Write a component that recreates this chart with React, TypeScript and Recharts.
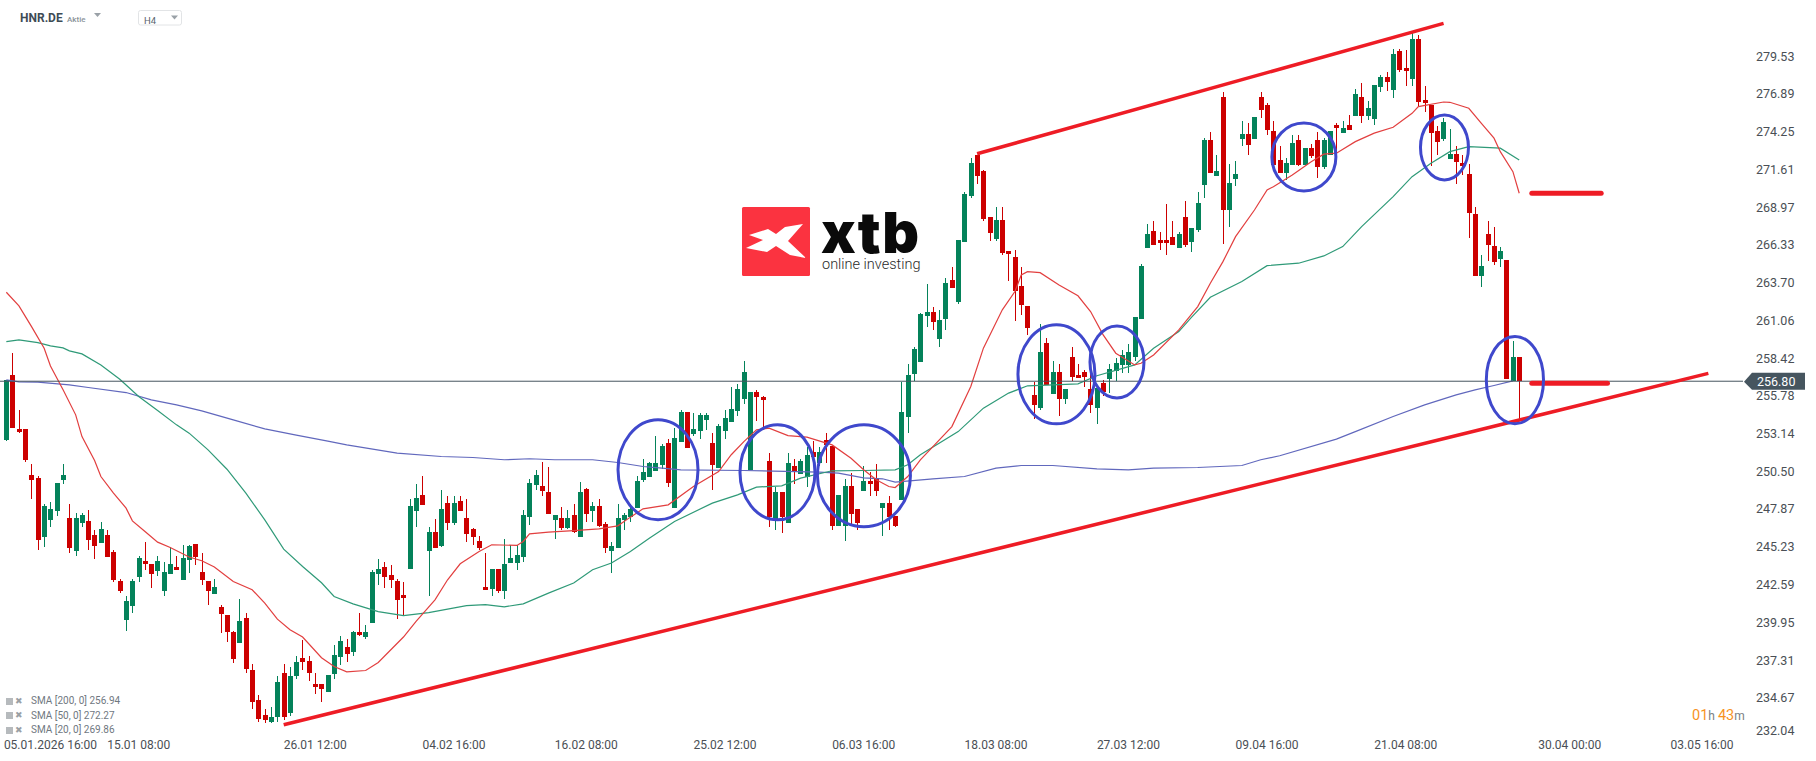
import React from "react";
import { ComposedChart, Bar, Line, XAxis, YAxis, ReferenceLine, ReferenceDot } from "recharts";

const FONT = "Roboto, sans-serif";
const GREEN = "#04825a";
const RED = "#cc0000";

// [open, high, low, close], one per 4h candle
const candles: number[][] = [
  [252.70,256.89,252.63,256.89],[257.24,258.78,253.54,253.54],[253.47,254.80,253.19,253.26],[253.47,253.47,251.16,251.30],
  [250.25,251.02,248.58,249.90],[250.04,250.18,245.01,245.71],[245.92,248.23,245.22,248.09],[247.11,248.37,246.62,247.88],
  [247.74,249.69,247.39,249.69],[249.90,251.02,249.62,250.25],[247.25,248.23,244.80,245.15],[244.94,247.60,244.59,247.25],
  [246.90,247.60,246.62,247.46],[247.04,247.81,245.01,245.71],[246.06,246.41,244.38,245.29],[245.50,246.97,245.50,246.48],
  [246.06,246.41,244.52,244.52],[244.87,245.01,242.78,242.92],[242.85,242.99,242.01,242.15],[240.12,241.80,239.35,241.45],
  [241.10,242.99,240.61,242.85],[243.12,244.59,242.78,244.45],[244.24,245.57,243.61,244.03],[244.03,244.03,242.36,243.34],
  [243.54,244.59,243.20,244.24],[242.15,244.17,241.80,243.47],[243.34,245.22,243.34,244.03],[243.82,244.59,243.61,243.61],
  [242.92,245.36,242.92,244.45],[244.31,245.36,243.41,245.29],[245.43,245.43,243.96,244.52],[243.47,244.80,242.57,242.92],
  [242.85,242.85,241.17,242.15],[241.94,242.99,241.94,242.43],[241.03,241.17,239.21,240.54],[240.47,240.47,238.58,239.28],
  [239.28,239.35,237.10,237.40],[238.51,241.59,238.51,240.05],[240.26,240.61,236.40,236.70],[236.60,237.00,233.90,234.40],
  [234.50,234.90,233.00,233.20],[233.50,233.90,232.90,233.10],[233.00,234.00,232.90,233.30],[233.30,236.20,233.00,235.80],
  [236.40,237.00,233.10,233.30],[233.60,236.80,233.40,236.20],[236.20,237.60,236.00,237.20],[237.44,238.72,236.58,237.14],
  [237.26,237.61,235.81,236.37],[235.65,236.42,234.95,235.44],[235.65,235.65,234.41,235.30],[235.09,236.28,235.09,236.28],
  [236.35,238.37,236.00,237.68],[237.54,239.00,236.98,238.65],[238.23,238.79,237.19,237.75],[237.89,239.35,237.61,239.28],
  [239.28,240.61,239.00,239.07],[238.93,239.77,238.79,239.28],[239.91,243.62,239.91,243.48],[243.34,244.38,242.57,243.69],
  [243.83,244.17,242.36,243.13],[243.27,243.96,242.36,242.92],[242.85,242.99,240.19,241.52],[241.87,242.78,240.40,241.66],
  [243.69,248.58,243.69,248.09],[247.74,249.63,246.62,248.65],[248.86,250.18,248.16,248.16],[244.94,246.62,241.80,246.27],
  [246.27,247.18,245.15,245.15],[245.29,249.21,245.22,247.88],[248.30,248.79,246.41,246.90],[246.90,248.79,246.76,248.30],
  [248.44,248.79,247.74,247.74],[247.25,248.58,245.57,246.13],[246.48,246.55,245.36,245.92],[245.64,245.99,245.01,245.15],
  [242.43,244.80,242.22,242.22],[242.29,243.69,241.80,243.69],[243.69,243.69,242.01,242.15],[242.15,245.78,241.59,244.03],
  [244.10,245.36,244.10,244.45],[244.10,245.36,243.62,244.66],[244.52,247.81,244.17,247.46],[247.32,249.97,246.76,249.70],
  [249.55,250.60,249.21,250.25],[249.49,251.16,248.79,249.14],[249.07,250.81,247.53,247.53],[247.11,247.46,245.78,247.46],
  [247.25,248.02,246.41,246.55],[246.55,247.81,246.48,247.25],[247.46,248.23,246.20,246.27],[245.92,249.77,245.92,249.07],
  [249.28,249.35,246.97,247.53],[247.74,248.37,246.95,248.09],[248.09,248.58,246.62,246.69],[246.83,246.97,244.80,245.15],
  [244.94,245.57,243.41,245.29],[245.15,248.23,245.15,247.25],[247.11,247.60,246.41,247.46],[247.32,248.23,246.97,247.88],
  [247.95,250.18,247.95,249.83],[249.90,251.37,249.77,250.46],[250.11,251.16,250.11,251.09],[250.54,252.98,250.54,251.10],
  [250.96,252.42,250.68,252.28],[252.49,252.77,249.42,249.70],[247.95,253.54,247.95,252.84],[252.58,254.80,252.58,254.66],
  [254.66,254.66,252.16,252.16],[253.12,254.59,252.98,253.47],[253.33,254.59,252.77,254.45],[254.10,254.59,253.40,254.45],
  [252.49,253.21,249.21,250.96],[250.75,253.82,250.75,253.68],[253.33,254.80,252.77,254.24],[253.96,256.41,253.96,254.87],
  [254.73,256.62,254.38,256.27],[255.57,258.22,255.22,257.45],[250.56,256.06,250.56,256.06],[256.06,256.20,254.03,255.71],
  [255.71,255.78,253.40,255.50],[251.23,251.77,246.60,247.32],[247.18,249.42,246.41,249.07],[249.07,249.07,246.22,247.32],
  [246.90,251.79,246.90,251.09],[250.88,251.37,249.63,250.53],[250.32,251.37,250.32,251.23],[250.11,252.21,249.42,251.65],
  [251.86,252.63,251.30,251.52],[251.09,252.20,250.90,251.86],[252.70,253.19,251.09,252.35],[252.28,252.28,246.41,246.69],
  [246.69,248.86,246.69,248.86],[246.69,249.97,245.60,249.49],[249.49,250.39,246.69,247.53],[247.88,247.88,246.41,246.90],
  [249.14,250.88,249.14,249.83],[249.83,250.46,248.79,249.63],[250.04,251.02,248.79,249.14],[247.95,248.30,245.99,248.30],
  [248.30,248.79,246.41,247.32],[247.39,247.39,246.60,246.69],[248.51,256.78,248.51,254.66],[254.31,258.01,253.21,257.25],
  [257.31,259.20,256.83,259.06],[258.15,261.58,258.15,261.51],[261.37,263.60,260.60,261.65],[261.65,262.00,260.39,260.95],
  [259.76,261.79,259.20,261.09],[261.16,264.02,260.39,263.67],[263.88,264.79,263.32,263.32],[262.35,266.68,262.21,266.68],
  [266.54,270.03,266.54,269.89],[269.75,272.41,269.61,272.06],[272.62,272.62,270.59,271.15],[271.50,271.57,268.01,268.15],
  [268.29,268.29,266.61,267.17],[266.75,268.98,266.61,268.08],[268.08,268.98,265.63,265.77],[265.91,265.91,263.81,265.70],
  [265.49,265.98,261.02,263.11],[263.46,264.79,261.44,262.14],[262.07,262.07,260.04,260.53],[255.85,256.78,254.17,255.15],
  [254.94,260.81,254.80,258.85],[259.48,259.83,256.55,256.55],[255.92,258.22,255.92,257.45],[257.45,258.01,254.38,255.57],
  [255.57,256.27,255.22,256.27],[258.50,259.20,256.83,257.11],[257.25,258.01,257.04,257.04],[257.45,257.59,256.41,257.11],
  [256.27,257.59,254.59,255.15],[254.94,256.34,253.82,256.34],[256.69,256.90,255.78,256.06],[256.97,258.01,256.00,257.66],
  [257.52,258.43,256.83,258.08],[257.94,258.99,257.38,258.64],[257.94,259.41,257.38,258.85],[258.50,261.30,258.22,261.30],
  [261.16,265.00,261.16,264.86],[266.12,267.80,266.12,267.10],[267.31,268.01,266.33,266.33],[266.68,267.24,265.98,266.47],
  [266.68,269.19,265.63,266.47],[266.89,268.01,266.33,266.33],[266.12,267.24,266.12,267.10],[268.29,269.40,266.19,266.33],
  [266.54,267.52,265.84,267.52],[267.38,270.03,267.24,269.26],[270.52,273.81,269.61,273.67],[273.67,274.23,271.36,271.36],
  [271.15,272.62,271.15,271.50],[276.67,277.02,266.40,268.78],[268.78,271.99,267.59,270.66],[270.94,272.20,270.45,271.29],
  [273.74,274.99,273.25,274.09],[274.09,274.85,272.62,273.32],[273.74,275.27,273.74,275.27],[276.67,277.02,275.20,275.76],
  [276.11,276.25,274.02,274.37],[274.30,274.99,271.92,271.92],[272.27,273.25,271.36,271.36],[271.36,272.41,270.87,272.06],
  [271.92,274.02,271.92,273.46],[273.67,274.02,271.85,271.92],[271.92,273.11,271.92,273.11],[273.11,273.39,272.41,272.55],
  [273.67,274.23,271.01,271.78],[271.78,273.81,271.64,273.67],[272.62,274.30,272.62,274.30],[274.72,274.85,272.76,274.51],
  [274.16,274.99,274.16,274.51],[274.72,275.41,274.37,274.37],[275.34,277.23,275.34,276.88],[276.67,277.65,274.85,275.34],
  [275.34,276.39,275.06,275.90],[275.13,277.51,274.72,277.51],[277.37,278.21,277.02,278.07],[278.07,278.42,277.09,277.72],
  [277.16,280.03,276.60,279.68],[279.89,280.03,278.42,278.56],[278.70,279.96,277.44,278.49],[277.93,281.14,277.44,280.72],
  [280.72,281.00,276.04,276.32],[276.46,277.44,275.62,276.25],[276.11,276.11,271.85,274.16],[274.30,274.65,272.62,273.53],
  [273.74,275.20,273.60,274.92],[272.34,274.44,272.34,272.69],[272.69,273.25,270.59,272.13],[272.06,272.62,271.22,271.85],
  [271.29,271.99,266.82,268.57],[268.50,268.98,264.16,264.16],[264.16,265.63,263.39,264.86],[267.10,268.01,265.21,266.33],
  [266.26,267.59,264.93,265.14],[265.35,266.19,264.79,265.91],[265.28,265.28,256.97,256.97],[256.83,259.62,256.83,258.50],
  [258.50,258.50,254.10,256.80],
];

// [candle slot, value]
const sma20: number[][] = [[0,263.02],[2,262.07],[4,260.62],[6,259.11],[7,257.87],[9,256.20],[11,254.45],[12,252.93],[14,251.26],[15,250.14],[17,248.98],[19,247.93],[20,247.04],[22,246.29],[24,245.55],[26,245.18],[29,244.51],[31,244.25],[33,243.81],[36,242.80],[39,242.22],[41,241.29],[43,240.17],[45,239.43],[47,238.92],[50,237.47],[52,236.86],[54,236.49],[57,236.58],[59,237.14],[63,238.92],[65,240.01],[68,241.52],[70,242.92],[72,244.04],[75,244.90],[77,245.37],[81,245.32],[82,245.60],[83,246.13],[86,246.25],[90,246.36],[94,246.48],[97,246.69],[99,247.30],[101,247.88],[105,248.16],[109,249.44],[113,250.49],[115,251.66],[117,252.58],[119,253.40],[121,253.52],[124,253.00],[127,252.89],[131,252.35],[134,251.42],[136,250.61],[138,249.91],[140,249.44],[141,249.37],[143,250.14],[145,251.31],[150,253.63],[153,256.43],[155,259.11],[158,261.79],[160,263.07],[161,264.23],[162,264.46],[164,264.39],[167,263.53],[170,262.77],[172,261.67],[174,260.04],[176,258.76],[179,257.94],[180,258.06],[182,258.64],[186,260.39],[189,262.02],[191,263.65],[193,265.16],[195,266.91],[198,268.77],[200,270.17],[201,270.40],[204,271.22],[207,272.15],[209,272.67],[211,272.74],[214,273.55],[217,274.14],[220,274.55],[223,275.53],[224,276.00],[228,276.32],[229,276.30],[232,275.88],[234,274.83],[236,273.79],[237,272.85],[239,271.45],[240,269.94]];
const sma50: number[][] = [[0,259.57],[2,259.69],[5,259.50],[7,259.27],[9,259.13],[10,258.92],[12,258.71],[15,257.94],[18,256.94],[21,255.73],[24,254.75],[27,253.75],[29,253.17],[32,252.00],[35,250.65],[38,248.98],[41,247.11],[44,245.06],[47,243.85],[50,242.71],[52,241.75],[55,241.24],[59,240.70],[63,240.42],[67,240.63],[73,241.12],[76,241.19],[79,241.03],[82,241.24],[86,241.99],[90,242.69],[93,243.62],[96,244.09],[99,244.90],[102,245.83],[106,247.00],[112,248.28],[116,248.86],[119,249.40],[123,249.49],[126,250.03],[131,250.54],[136,250.56],[141,250.61],[143,250.96],[145,251.66],[151,253.28],[155,254.92],[159,255.97],[162,256.48],[170,256.62],[173,257.18],[179,257.94],[182,259.11],[186,260.27],[188,261.26],[191,262.67],[196,263.77],[200,264.88],[205,265.05],[209,265.56],[212,266.21],[215,267.61],[220,269.70],[223,271.10],[226,272.04],[229,272.85],[232,273.20],[237,273.09],[240,272.27]];
const sma200: number[][] = [[0,256.90],[2,256.76],[5,256.74],[10,256.55],[13,256.36],[19,256.01],[23,255.50],[27,255.15],[31,254.73],[36,254.10],[41,253.47],[46,253.03],[51,252.61],[54,252.35],[62,251.77],[69,251.54],[74,251.47],[79,251.31],[83,251.38],[87,251.31],[93,251.31],[97,251.12],[101,250.84],[104,250.73],[107,250.61],[117,250.56],[129,250.45],[132,250.38],[136,250.05],[139,249.98],[141,249.75],[147,249.98],[152,250.14],[157,250.73],[161,250.91],[166,250.91],[173,250.68],[178,250.61],[182,250.73],[189,250.77],[196,250.91],[199,251.31],[202,251.59],[211,252.75],[214,253.28],[220,254.33],[225,255.15],[230,255.85],[233,256.20],[236,256.50],[239,256.83]];

const priceTicks = [279.53,276.89,274.25,271.61,268.97,266.33,263.70,261.06,258.42,255.78,253.14,250.50,247.87,245.23,242.59,239.95,237.31,234.67,232.04];
const dateSlots = [7,21,49,71,92,114,136,157,178,200,222,248,269];
const dateLabels = ["05.01.2026 16:00","15.01 08:00","26.01 12:00","04.02 16:00","16.02 08:00","25.02 12:00","06.03 16:00","18.03 08:00","27.03 12:00","09.04 16:00","21.04 08:00","30.04 00:00","03.05 16:00"];
const legendRows = ["SMA [200, 0] 256.94","SMA [50, 0] 272.27","SMA [20, 0] 269.86"];
const lastPrice = 256.80;
const SLOT_COUNT = 276;

// hand-drawn annotations, in chart values
const trendLines = [
  { a: [44, 232.79], b: [270, 257.35], w: 3.5, cap: "butt" },
  { a: [154, 272.70], b: [228, 281.82], w: 3.5, cap: "butt" },
  { a: [242, 269.94], b: [253, 269.94], w: 5, cap: "round" },
  { a: [242, 256.66], b: [254, 256.66], w: 5, cap: "round" },
];
const circles = [
  { slot: 103, price: 250.61, rx: 40, ry: 50, dx: 2.4 },
  { slot: 122, price: 250.43, rx: 37.5, ry: 47.5, dx: 2.1 },
  { slot: 136, price: 250.19, rx: 46.5, ry: 51, dx: 0.3 },
  { slot: 167, price: 257.28, rx: 38.5, ry: 49.5, dx: -2.6 },
  { slot: 176, price: 258.15, rx: 27, ry: 36, dx: 1.2 },
  { slot: 206, price: 272.48, rx: 32, ry: 34, dx: -1 },
  { slot: 228, price: 273.14, rx: 24, ry: 32.5, dx: 0.9 },
  { slot: 239, price: 256.88, rx: 28.6, ry: 43.7, dx: 2 },
];

const rows: any[] = Array.from({ length: SLOT_COUNT }, (_, slot) => {
  const c = candles[slot];
  return c ? { slot, open: c[0], high: c[1], low: c[2], close: c[3], range: [c[2], c[1]] } : { slot };
});
sma20.forEach(([s, v]) => { rows[s].sma20 = v; });
sma50.forEach(([s, v]) => { rows[s].sma50 = v; });
sma200.forEach(([s, v]) => { rows[s].sma200 = v; });

function Candle(props: any) {
  const { x, y, width, height, payload } = props;
  if (!payload || payload.open === undefined) return null;
  const { open, high, low, close } = payload;
  const top = Math.min(y, y + height);
  const h = Math.abs(height);
  const ppu = h / Math.max(high - low, 0.001);
  const bodyTop = top + (high - Math.max(open, close)) * ppu;
  const bodyH = Math.max(Math.abs(open - close) * ppu, 1);
  const left = Math.round(x + width / 2 - 2.5);
  const color = close >= open ? GREEN : RED;
  return (
    <g shapeRendering="crispEdges">
      <rect x={left + 2} y={top} width={1} height={h} fill={color} />
      <rect x={left} y={bodyTop} width={5} height={bodyH} fill={color} />
    </g>
  );
}

function PriceTick(props: any) {
  const { x, y, payload } = props;
  const shift = payload.value === 232.04 ? -5 : 0;
  return (
    <text x={x + 5} y={y + 4.5 + shift} fontFamily={FONT} fontSize={12.5} fill="#4a4f55">
      {payload.value.toFixed(2)}
    </text>
  );
}

function DateTick(props: any) {
  const { x, payload } = props;
  const label = dateLabels[dateSlots.indexOf(payload.value)];
  return (
    <text x={x} y={749} textAnchor="middle" fontFamily={FONT} fontSize={12} fill="#4a4f55">
      {label}
    </text>
  );
}

function PriceTag(props: any) {
  const vb = props.viewBox;
  const x0 = vb.x + vb.width;
  const y0 = vb.y;
  return (
    <g>
      <polygon
        points={`${x0 + 1},${y0 + 0.5} ${x0 + 9},${y0 - 8.5} ${x0 + 62},${y0 - 8.5} ${x0 + 62},${y0 + 8.5} ${x0 + 9},${y0 + 8.5}`}
        fill="#46555f"
      />
      <text x={x0 + 14} y={y0 + 5} fontFamily={FONT} fontSize={12.5} fill="#ffffff">
        {lastPrice.toFixed(2)}
      </text>
    </g>
  );
}

function Header() {
  return (
    <svg width={200} height={30} style={{ position: "absolute", left: 0, top: 0 }}>
      <text x={20} y={22} fontFamily={FONT} fontSize={12} fontWeight={700} fill="#3e4b55">HNR.DE</text>
      <text x={67} y={22} fontFamily={FONT} fontSize={8} fontWeight={500} fill="#8a939a">Aktie</text>
      <polygon points="94,13 101,13 97.5,17" fill="#9aa1a7" />
      <rect x={138.5} y={10.5} width={43} height={14.5} rx={2} fill="#fff" stroke="#e2e4e6" />
      <text x={144} y={23.5} fontFamily={FONT} fontSize={9.5} fill="#59646d">H4</text>
      <polygon points="171,15.5 178,15.5 174.5,19.5" fill="#9aa1a7" />
    </svg>
  );
}

function Logo() {
  return (
    <>
      <svg width={80} height={80} viewBox="0 0 80 80" style={{ position: "absolute", left: 735, top: 203 }}>
        <rect x={7} y={4} width={68} height={69} rx={1.5} fill="#fb3340" />
        <polygon
          points="68,21 50,24 41,31 33,26 14,32 28,37 11,45 32,49 41,43 55,52 71,55 53,38"
          fill="#ffffff"
        />
      </svg>
      <div style={{ position: "absolute", left: 821, top: 214, height: 38, lineHeight: "38px", fontFamily: "Inter, sans-serif", fontWeight: 900, fontSize: 57, letterSpacing: 1.5, color: "#0a0a0a" }}>xtb</div>
      <div style={{ position: "absolute", left: 822, top: 258, height: 14, lineHeight: "14px", fontFamily: FONT, fontWeight: 300, fontSize: 14.5, color: "#2a2a2a", whiteSpace: "nowrap" }}>online investing</div>
    </>
  );
}

function Legend() {
  return (
    <div style={{ position: "absolute", left: 0, top: 694, fontFamily: FONT, fontSize: 10, color: "#70787f", lineHeight: "14.5px" }}>
      {legendRows.map((t) => (
        <div key={t} style={{ display: "flex", alignItems: "center", height: 14.5 }}>
          <span style={{ width: 7, height: 7, background: "#b6babd", marginLeft: 6, marginRight: 2 }} />
          <span style={{ width: 7, fontSize: 9, color: "#9aa0a5", marginRight: 9, lineHeight: "9px" }}>✖</span>
          <span>{t}</span>
        </div>
      ))}
    </div>
  );
}

function Timer() {
  return (
    <div style={{ position: "absolute", left: 1692, top: 707, fontFamily: FONT, fontSize: 14.5, color: "#f7931e", whiteSpace: "nowrap" }}>
      01<span style={{ color: "#7a7f84", fontSize: 12 }}>h </span>43<span style={{ color: "#7a7f84", fontSize: 12 }}>m</span>
    </div>
  );
}

export default function App() {
  return (
    <div style={{ position: "absolute", left: 0, top: 0, width: 1816, height: 761, background: "#fff", overflow: "hidden" }}>
      <Logo />
      <div style={{ position: "absolute", left: 0, top: 0 }}>
        <ComposedChart
          width={1816}
          height={761}
          data={rows}
          barCategoryGap={0}
          margin={{ top: 0, right: 0, bottom: 0, left: 0 }}
          style={{ background: "transparent" }}
        >
          <XAxis
            dataKey="slot"
            type="category"
            ticks={dateSlots}
            interval={0}
            height={25}
            padding={{ left: 3.18, right: 0 }}
            axisLine={false}
            tickLine={false}
            tick={<DateTick />}
          />
          <YAxis
            orientation="right"
            width={73}
            domain={[232.0, 283.45]}
            allowDataOverflow
            ticks={priceTicks}
            interval={0}
            axisLine={false}
            tickLine={false}
            tick={<PriceTick />}
          />
          <Bar dataKey="range" barSize={5} isAnimationActive={false} shape={<Candle />} />
          <Line dataKey="sma200" stroke="#6168bd" strokeWidth={1.2} dot={false} connectNulls isAnimationActive={false} />
          <Line dataKey="sma50" stroke="#2f9a78" strokeWidth={1.2} dot={false} connectNulls isAnimationActive={false} />
          <Line dataKey="sma20" stroke="#e23f3f" strokeWidth={1.2} dot={false} connectNulls isAnimationActive={false} />
          <ReferenceLine y={lastPrice} stroke="#46555f" strokeWidth={1} label={<PriceTag />} />
          {trendLines.map((t, i) => (
            <ReferenceLine
              key={i}
              segment={[{ x: t.a[0], y: t.a[1] }, { x: t.b[0], y: t.b[1] }]}
              stroke="#ee1c25"
              strokeWidth={t.w}
              strokeLinecap={t.cap as any}
            />
          ))}
          {circles.map((c, i) => (
            <ReferenceDot
              key={i}
              x={c.slot}
              y={c.price}
              r={1}
              shape={(p: any) => (
                <ellipse cx={p.cx + c.dx} cy={p.cy} rx={c.rx} ry={c.ry} fill="none" stroke="#3f48cc" strokeWidth={3} />
              )}
            />
          ))}
        </ComposedChart>
      </div>
      <Header />
      <Legend />
      <Timer />
    </div>
  );
}
